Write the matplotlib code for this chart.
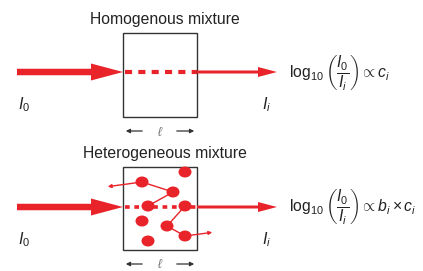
import matplotlib
matplotlib.use("Agg")
import matplotlib.pyplot as plt
import matplotlib.patches as mpatches

plt.rcParams['font.family'] = ['Liberation Sans', 'DejaVu Sans']
plt.rcParams['mathtext.fontset'] = 'custom'
plt.rcParams['mathtext.rm'] = 'Liberation Sans'
plt.rcParams['mathtext.it'] = 'Liberation Sans:italic'
plt.rcParams['mathtext.sf'] = 'Liberation Sans'

RED = '#e8232a'

titles = ["Homogenous mixture", "Heterogeneous mixture"]
formulas = [r'$\log_{10}\left(\dfrac{I_0}{I_i}\right) \propto c_i$',
            r'$\log_{10}\left(\dfrac{I_0}{I_i}\right) \propto b_i \times c_i$']
row_y = [72, 207]          # beam centre line of each panel
box_top = [33, 167]
box_bottom = [117, 250]

# scattering particles (x, y) in the heterogeneous panel
particle_x = [185, 142, 173, 148, 185, 142, 167, 185, 148]
particle_y = [172, 182, 192, 206, 206, 221, 226, 236, 241]
# scattering paths: chains of particle indices, then outgoing arrow tip
paths = [([1, 2, 3], (105, 187), 1), ([4, 6, 7], (215, 232), 7)]

fig = plt.figure(figsize=(4.23, 2.71), dpi=100)
ax = fig.add_axes([0, 0, 1, 1])
ax.set_xlim(0, 423)
ax.set_ylim(271, 0)
ax.axis('off')

box_l, box_r = 123, 197

for k in range(2):
    y = row_y[k]
    ax.text(165, box_top[k] - 6, titles[k], ha='center', va='bottom', fontsize=11.3, color='#222222')
    ax.add_patch(mpatches.Rectangle((box_l, box_top[k]), box_r - box_l, box_bottom[k] - box_top[k],
                                    fill=False, ec='#333333', lw=1.0, zorder=3))
    # incoming thick arrow
    ax.add_patch(mpatches.FancyArrow(17, y, box_l - 17, 0, width=6.5, head_width=17, head_length=32,
                                     length_includes_head=True, color=RED, lw=0, zorder=4))
    # attenuated dotted beam in box
    if k == 0:
        ax.plot([box_l + 2, box_r], [y, y], color=RED, lw=3.0, ls=(0, (1.7, 1.5)), solid_capstyle='butt',
                zorder=2)
    else:
        ax.plot([box_l + 2, box_r], [y, y], color=RED, lw=2.6, ls=(0, (1.3, 1.3)), solid_capstyle='butt',
                zorder=2)
    # outgoing thin arrow
    ax.add_patch(mpatches.FancyArrow(box_r, y, 277 - box_r, 0, width=3, head_width=10, head_length=19,
                                     length_includes_head=True, color=RED, lw=0, zorder=4))
    ax.text(18, y + 33, r'$I_0$', ha='left', va='center', fontsize=11.5, color='#222222')
    ax.text(262, y + 33, r'$I_i$', ha='left', va='center', fontsize=11.5, color='#222222')
    ax.text(289, y, formulas[k], ha='left', va='center', fontsize=11.3, color='#222222')
    # path length indicator
    ly = box_bottom[k] + 14
    ax.annotate('', xy=(box_l, ly), xytext=(145, ly),
                arrowprops=dict(arrowstyle='-|>', color='#333333', lw=0.9, mutation_scale=6))
    ax.annotate('', xy=(box_r, ly), xytext=(174, ly),
                arrowprops=dict(arrowstyle='-|>', color='#333333', lw=0.9, mutation_scale=6))
    ax.text(160, ly + 1, r'$\ell$', ha='center', va='center', fontsize=9, color='#777777')

# scattering paths
for chain, tip, last in paths:
    xs = [particle_x[i] for i in chain]
    ys = [particle_y[i] for i in chain]
    ax.plot(xs, ys, color=RED, lw=1.0, zorder=5)
    ax.annotate('', xy=tip, xytext=(particle_x[last], particle_y[last]),
                arrowprops=dict(arrowstyle='-|>', color=RED, lw=1.0, mutation_scale=5), zorder=5)

for px, py in zip(particle_x, particle_y):
    ax.add_patch(mpatches.Ellipse((px, py), 13, 11, color=RED, lw=0, zorder=6))

fig.savefig('out.png', dpi=100)
